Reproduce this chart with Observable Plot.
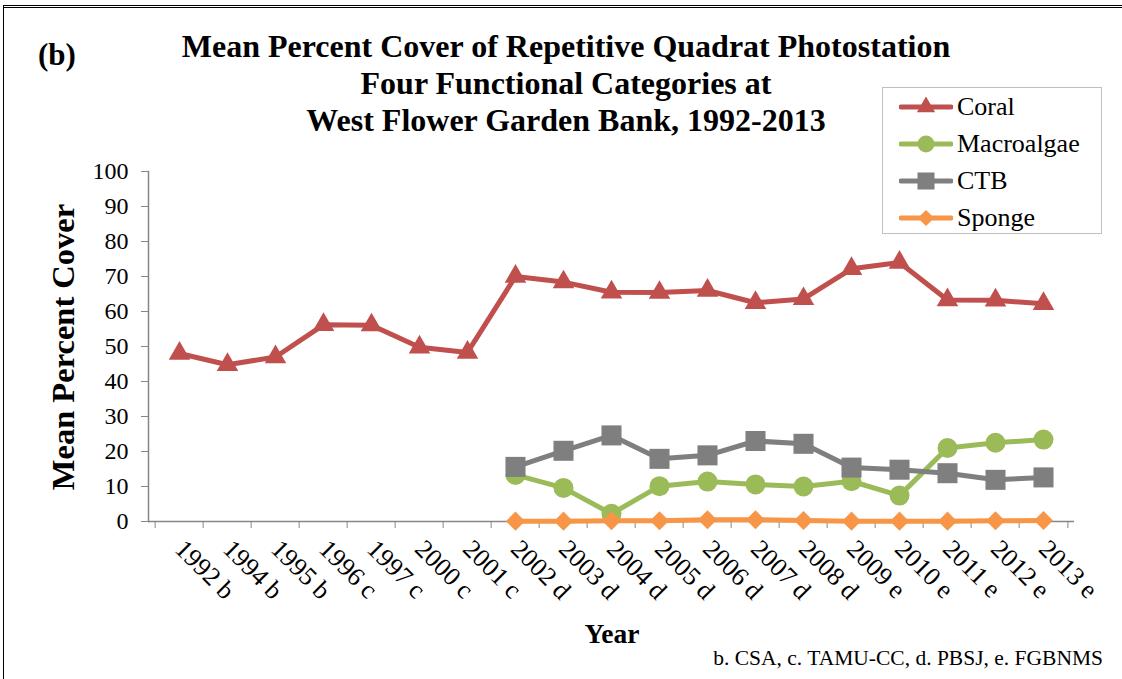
<!DOCTYPE html>
<html>
<head>
<meta charset="utf-8">
<script src="https://cdn.jsdelivr.net/npm/d3@7"></script>
<script src="https://cdn.jsdelivr.net/npm/@observablehq/plot@0.6"></script>
<style>
  html, body { margin: 0; padding: 0; background: #fff; overflow: hidden; }
  #wrap { position: relative; width: 1122px; height: 679px; font-family: "Liberation Serif", "Times New Roman", serif; color: #000; overflow: hidden; }
  #wrap svg.plot { position: absolute; left: 0; top: 0; }
  .abs { position: absolute; white-space: nowrap; }
  #border { position: absolute; left: 3px; top: 5px; width: 1200px; height: 700px; border-top: 3px double #000; border-left: 1.5px solid #000; }
  #title { left: 166px; top: 28px; width: 800px; text-align: center; font-weight: bold; font-size: 32px; line-height: 37px; }
  #panel { left: 38px; top: 38px; font-weight: bold; font-size: 31px; line-height: 34px; }
  #ylab { left: 63px; top: 347px; transform: translate(-50%, -50%) rotate(-90deg); font-weight: bold; font-size: 32.5px; }
  #xlab { left: 612px; top: 634px; transform: translate(-50%, -50%); font-weight: bold; font-size: 27.5px; }
  #foot { right: 19px; top: 647px; font-size: 21.5px; line-height: 22px; }
  #legend { left: 882px; top: 87px; width: 220px; height: 147px; border: 1px solid #bfbfbf; box-sizing: border-box; background: #fff; }
  .item { position: absolute; left: 0; height: 30px; display: flex; align-items: center; font-size: 26px; }
  .item svg { margin-left: 16px; margin-right: 4px; }
</style>
</head>
<body>
<div id="wrap">
  <div id="border"></div>
</div>
<script>
const years = ["1992 b","1994 b","1995 b","1996 c","1997 c","2000 c","2001 c","2002 d","2003 d","2004 d","2005 d","2006 d","2007 d","2008 d","2009 e","2010 e","2011 e","2012 e","2013 e"];
const coral      = [48, 44.8, 47, 56.2, 56.1, 49.8, 48.3, 70, 68.4, 65.5, 65.4, 66, 62.5, 63.6, 72.2, 74, 63.3, 63.2, 62.2];
const macroalgae = [null, null, null, null, null, null, null, 13.3, 9.6, 2.2, 10.1, 11.4, 10.6, 10.0, 11.5, 7.4, 21.0, 22.5, 23.4];
const ctb        = [null, null, null, null, null, null, null, 15.6, 20.2, 24.6, 17.9, 18.9, 23.0, 22.2, 15.4, 14.8, 13.8, 11.9, 12.6];
const sponge     = [null, null, null, null, null, null, null, 0.1, 0.1, 0.2, 0.2, 0.5, 0.5, 0.3, 0.1, 0.1, 0.1, 0.2, 0.3];

const seriesNames = ["Coral", "Macroalgae", "CTB", "Sponge"];
const seriesValues = [coral, macroalgae, ctb, sponge];
const seriesColors = ["#C0504D", "#9BBB59", "#7F7F7F", "#F79646"];
const seriesSymbols = ["triangle", "circle", "square", "diamond2"];
const seriesR = [8, 10, 11.3, 8.6];
const yTicks = d3.range(0, 101, 10);

const W = 1122, H = 679, mL = 148, mR = 48, mT = 171, mB = 158;
const step = (W - mL - mR) / years.length;
const axisGray = "#868686";

const marks = [
  Plot.ruleY([0], {stroke: axisGray, strokeWidth: 1.5}),
  Plot.frame({anchor: "left", stroke: axisGray, strokeWidth: 1.5}),
  Plot.axisY({ticks: yTicks, tickSize: 7, tickPadding: 13, stroke: axisGray, fill: "#000", fontSize: 24, label: null}),
  Plot.axisX({tickSize: 0, tickRotate: 45, tickPadding: 23, fill: "#000", fontSize: 26, label: null}),
  Plot.axisX({tickSize: 7, text: null, dx: -step / 2, stroke: axisGray, label: null}),
  Plot.axisX([years[years.length - 1]], {tickSize: 7, text: null, dx: step / 2, stroke: axisGray, label: null})
];

seriesNames.forEach((name, i) => {
  const rows = years.map((yr, j) => ({year: yr, value: seriesValues[i][j]})).filter(d => d.value != null);
  marks.push(Plot.line(rows, {x: "year", y: "value", stroke: seriesColors[i], strokeWidth: 5}));
  marks.push(Plot.dot(rows, {x: "year", y: "value", symbol: () => seriesSymbols[i], r: seriesR[i], fill: seriesColors[i], stroke: "none"}));
});

const chart = Plot.plot({
  width: W, height: H,
  marginLeft: mL, marginRight: mR, marginTop: mT, marginBottom: mB,
  style: {fontFamily: "Liberation Serif", fontSize: "24px", color: "#000", background: "transparent"},
  x: {type: "band", domain: years, padding: 0, label: null},
  y: {domain: [0, 100], label: null},
  symbol: {type: "identity"},
  marks
});
chart.classList.add("plot");
const wrap = document.getElementById("wrap");
wrap.appendChild(chart);

function addDiv(id, html) {
  const d = document.createElement("div");
  d.id = id; d.className = "abs"; d.innerHTML = html;
  wrap.appendChild(d);
  return d;
}
addDiv("panel", "(b)");
addDiv("title", "Mean Percent Cover of Repetitive Quadrat Photostation<br>Four Functional Categories at<br>West Flower Garden Bank, 1992-2013");
addDiv("ylab", "Mean Percent Cover");
addDiv("xlab", "Year");
addDiv("foot", "b. CSA, c. TAMU-CC, d. PBSJ, e. FGBNMS");

const legend = addDiv("legend", "");
const symMap = {triangle: d3.symbolTriangle, circle: d3.symbolCircle, square: d3.symbolSquare, diamond2: d3.symbolDiamond2};
seriesNames.forEach((name, i) => {
  const it = document.createElement("div");
  it.className = "item";
  it.style.top = (4 + i * 37) + "px";
  const ns = "http://www.w3.org/2000/svg";
  const svg = document.createElementNS(ns, "svg");
  svg.setAttribute("width", 54); svg.setAttribute("height", 30);
  const ln = document.createElementNS(ns, "line");
  ln.setAttribute("x1", 2); ln.setAttribute("x2", 52); ln.setAttribute("y1", 15); ln.setAttribute("y2", 15);
  ln.setAttribute("stroke", seriesColors[i]); ln.setAttribute("stroke-width", 5); ln.setAttribute("stroke-linecap", "round");
  svg.appendChild(ln);
  const p = document.createElementNS(ns, "path");
  const rr = seriesR[i] * 0.85;
  p.setAttribute("d", d3.symbol(symMap[seriesSymbols[i]], Math.PI * rr * rr)());
  p.setAttribute("transform", "translate(27,15)");
  p.setAttribute("fill", seriesColors[i]);
  svg.appendChild(p);
  it.appendChild(svg);
  const t = document.createElement("span");
  t.textContent = name;
  it.appendChild(t);
  legend.appendChild(it);
});
</script>
</body>
</html>
